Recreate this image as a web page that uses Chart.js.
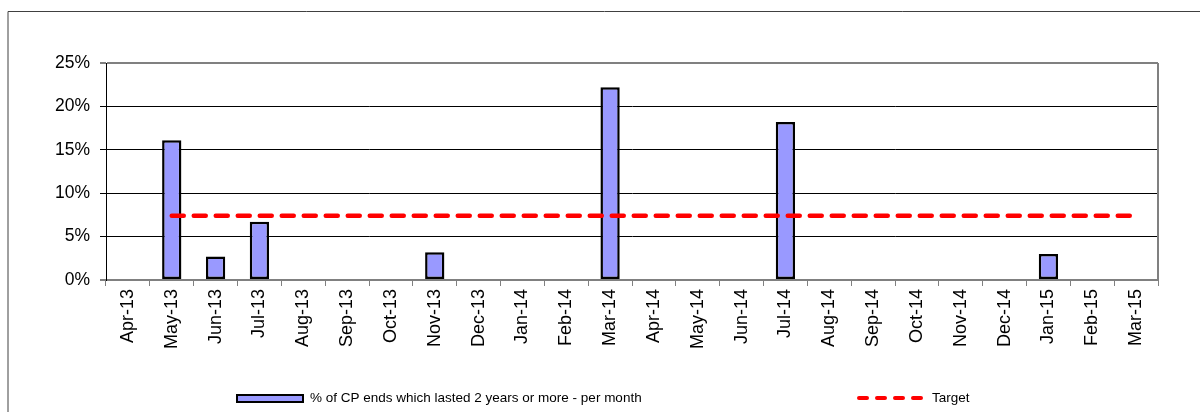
<!DOCTYPE html>
<html>
<head>
<meta charset="utf-8">
<script src="https://cdn.jsdelivr.net/npm/chart.js@4/dist/chart.umd.min.js"></script>
<style>
html,body{margin:0;padding:0;background:#fff;}
#wrap{position:relative;width:1200px;height:412px;}
</style>
</head>
<body>
<div id="wrap"><canvas id="c" width="1200" height="412"></canvas></div>
<script>
const categories = ["Apr-13","May-13","Jun-13","Jul-13","Aug-13","Sep-13","Oct-13","Nov-13","Dec-13","Jan-14","Feb-14","Mar-14","Apr-14","May-14","Jun-14","Jul-14","Aug-14","Sep-14","Oct-14","Nov-14","Dec-14","Jan-15","Feb-15","Mar-15"];
const cpEnds = [0,16.1,2.7,6.7,0,0,0,3.2,0,0,0,22.2,0,0,0,18.2,0,0,0,0,0,3.0,0,0];
const target = [null,7.4,7.4,7.4,7.4,7.4,7.4,7.4,7.4,7.4,7.4,7.4,7.4,7.4,7.4,7.4,7.4,7.4,7.4,7.4,7.4,7.4,7.4,7.4];
const yTicks = [0,5,10,15,20,25];
const barLabel = "% of CP ends which lasted 2 years or more - per month";
const targetLabel = "Target";

const FONT = "'Liberation Sans', Arial, sans-serif";

const framePlugin = {
  id: 'frame',
  beforeDraw(chart){
    const ctx = chart.ctx;
    ctx.save();
    ctx.strokeStyle = '#404040';
    ctx.lineWidth = 1;
    ctx.beginPath();
    ctx.moveTo(8, 420); ctx.lineTo(8, 11.5); ctx.lineTo(1210, 11.5);
    ctx.stroke();
    ctx.restore();
  },
  afterDraw(chart){
    const ctx = chart.ctx;
    const a = chart.chartArea;
    ctx.save();
    ctx.strokeStyle = '#808080';
    ctx.lineWidth = 2;
    ctx.beginPath();
    ctx.moveTo(a.right, a.top); ctx.lineTo(a.right, a.bottom);
    ctx.stroke();
    const ly = 398;
    ctx.fillStyle = '#9999FF';
    ctx.fillRect(237, 395, 66, 7);
    ctx.strokeStyle = '#000';
    ctx.lineWidth = 2;
    ctx.strokeRect(237, 395, 66, 7);
    ctx.fillStyle = '#000';
    ctx.font = '13.5px ' + FONT;
    ctx.textBaseline = 'middle';
    ctx.textAlign = 'left';
    ctx.fillText(barLabel, 310, ly);
    ctx.strokeStyle = '#FF0000';
    ctx.lineWidth = 4;
    ctx.lineCap = 'round';
    ctx.setLineDash([8,10]);
    ctx.beginPath();
    ctx.moveTo(859, ly); ctx.lineTo(925, ly);
    ctx.stroke();
    ctx.setLineDash([]);
    ctx.fillText(targetLabel, 932, ly);
    ctx.restore();
  }
};

new Chart(document.getElementById('c'), {
  data: {
    labels: categories,
    datasets: [
      {
        type: 'line',
        label: targetLabel,
        data: target,
        borderColor: '#FF0000',
        borderWidth: 4.5,
        borderDash: [12,10],
        borderCapStyle: 'round',
        pointRadius: 0,
        fill: false,
        order: 0
      },
      {
        type: 'bar',
        label: barLabel,
        data: cpEnds,
        backgroundColor: '#9999FF',
        borderColor: '#000000',
        borderWidth: 2.5,
        borderSkipped: false,
        categoryPercentage: 1,
        barPercentage: 0.44,
        order: 1
      }
    ]
  },
  options: {
    responsive: false,
    animation: false,
    events: [],
    layout: { padding: { top: 63, right: 42, left: 0, bottom: 0 } },
    plugins: { legend: { display: false }, tooltip: { enabled: false } },
    scales: {
      x: {
        offset: true,
        grid: {
          offset: true,
          drawOnChartArea: false,
          drawTicks: true,
          tickLength: 6,
          color: '#808080'
        },
        border: { color: '#808080', width: 2 },
        ticks: {
          maxRotation: 90, minRotation: 90,
          autoSkip: false,
          padding: 3,
          color: '#000',
          font: { family: FONT, size: 18 }
        },
        afterFit(scale){ scale.height = 132; }
      },
      y: {
        min: 0, max: 25,
        afterBuildTicks(scale){ scale.ticks = yTicks.map(v => ({value: v})); },
        grid: {
          color: ctx => (ctx.tick && (ctx.tick.value === 25 || ctx.tick.value === 0)) ? '#808080' : '#000000',
          lineWidth: ctx => (ctx.tick && (ctx.tick.value === 25 || ctx.tick.value === 0)) ? 2 : 1,
          tickLength: 6
        },
        border: { color: '#000', width: 1 },
        ticks: {
          padding: 10,
          color: '#000',
          font: { family: FONT, size: 17.5 },
          callback: v => v + '%'
        },
        afterFit(scale){ scale.width = 106; }
      }
    }
  },
  plugins: [framePlugin]
});
</script>
</body>
</html>
